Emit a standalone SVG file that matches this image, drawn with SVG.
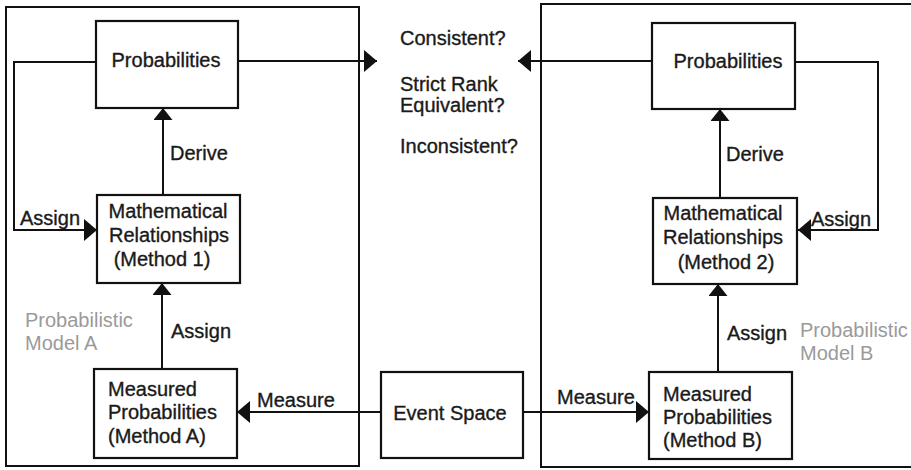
<svg xmlns="http://www.w3.org/2000/svg" width="911" height="470" viewBox="0 0 911 470">
<style>
text{font-family:"Liberation Sans",Arial,sans-serif;font-size:20px;fill:#1a1a1a;stroke:#1a1a1a;stroke-width:0.35}
.gray{fill:#9a9a9a;stroke:none}
.box{fill:#fff;stroke:#111;stroke-width:2.2}
.frame{fill:none;stroke:#111;stroke-width:2}
.ln{fill:none;stroke:#111;stroke-width:2;marker-end:url(#ah)}
.lv{fill:none;stroke:#111;stroke-width:2;marker-end:url(#av)}
.mid{text-anchor:middle}
</style>
<defs>
<marker id="ah" viewBox="0 0 13 22" refX="13" refY="11" markerWidth="13" markerHeight="22" markerUnits="userSpaceOnUse" orient="auto">
<path d="M0,0 L13,11 L0,22 z" fill="#111"/>
</marker>
<marker id="av" viewBox="0 0 12 19" refX="12" refY="9.5" markerWidth="12" markerHeight="19" markerUnits="userSpaceOnUse" orient="auto">
<path d="M0,0 L12,9.5 L0,19 z" fill="#111"/>
</marker>
</defs>
<rect width="911" height="470" fill="#fff"/>
<g id="modelA">
<rect class="frame" x="6" y="7" width="353" height="459"/>
<text class="gray" x="25" y="327">Probabilistic</text>
<text class="gray" x="25" y="350">Model A</text>
</g>
<g id="modelB">
<rect class="frame" x="541" y="4" width="380" height="463"/>
<text class="gray" x="800" y="337">Probabilistic</text>
<text class="gray" x="800" y="360">Model B</text>
</g>
<g id="connectors">
<path class="ln" d="M238,61 L377,61"/>
<path class="ln" d="M652,61 L518,61"/>
<path class="ln" d="M96,62 L14,62 L14,230 L97,230"/>
<path class="ln" d="M795,62 L878,62 L878,230 L798,230"/>
<path class="lv" d="M163,195 L163,108"/>
<path class="lv" d="M720,198 L720,109"/>
<path class="lv" d="M162,369 L162,283"/>
<path class="lv" d="M718,372 L718,284"/>
<path class="ln" d="M381,412 L237,412"/>
<path class="ln" d="M523,412 L649,412"/>
<text x="170" y="160">Derive</text>
<text x="726" y="161">Derive</text>
<text x="20" y="225">Assign</text>
<text x="811" y="226">Assign</text>
<text x="171" y="338">Assign</text>
<text x="727" y="340">Assign</text>
<text x="257" y="407">Measure</text>
<text x="557" y="404">Measure</text>
</g>
<g id="probA">
<rect class="box" x="96" y="21" width="142" height="87"/>
<text class="mid" x="166" y="67">Probabilities</text>
</g>
<g id="mathA">
<rect class="box" x="97" y="195" width="143" height="88"/>
<text class="mid" x="168" y="218">Mathematical</text>
<text class="mid" x="169" y="242">Relationships</text>
<text class="mid" x="162" y="266">(Method 1)</text>
</g>
<g id="measA">
<rect class="box" x="94" y="369" width="143" height="89"/>
<text x="108" y="396">Measured</text>
<text x="108" y="419">Probabilities</text>
<text x="108" y="443">(Method A)</text>
</g>
<g id="eventSpace">
<rect class="box" x="381" y="372" width="142" height="86"/>
<text class="mid" x="450" y="420">Event Space</text>
</g>
<g id="questions">
<text x="400" y="45">Consistent?</text>
<text x="400" y="91">Strict Rank</text>
<text x="400" y="112">Equivalent?</text>
<text x="400" y="153">Inconsistent?</text>
</g>
<g id="probB">
<rect class="box" x="652" y="23" width="143" height="86"/>
<text class="mid" x="728" y="68">Probabilities</text>
</g>
<g id="mathB">
<rect class="box" x="653" y="198" width="144" height="86"/>
<text class="mid" x="723" y="220">Mathematical</text>
<text class="mid" x="723" y="244">Relationships</text>
<text class="mid" x="726" y="269">(Method 2)</text>
</g>
<g id="measB">
<rect class="box" x="649" y="372" width="143" height="87"/>
<text x="663" y="401">Measured</text>
<text x="663" y="424">Probabilities</text>
<text x="663" y="447">(Method B)</text>
</g>
</svg>
